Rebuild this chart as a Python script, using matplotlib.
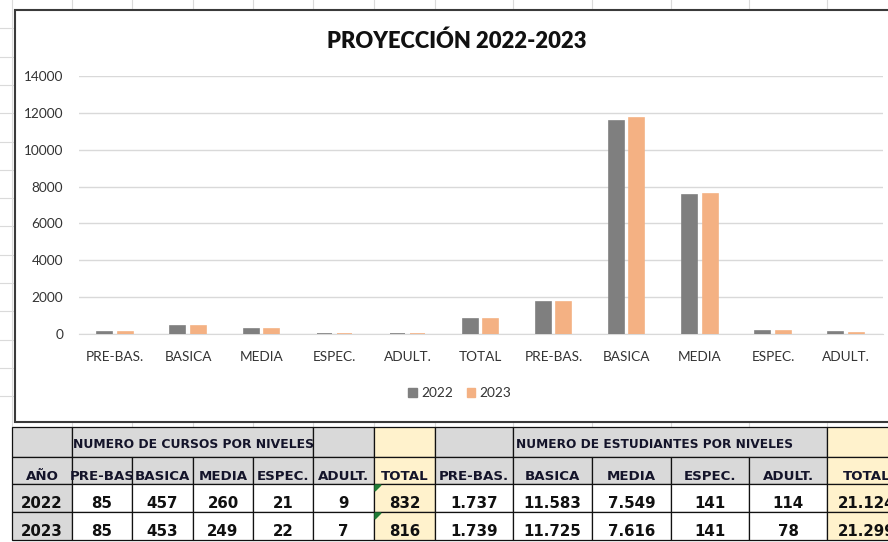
import matplotlib
matplotlib.use('Agg')
import matplotlib.pyplot as plt
from matplotlib.patches import Rectangle, Polygon, Patch
import numpy as np

# ---- datos ----
niveles = ['PRE-BAS.', 'BASICA', 'MEDIA', 'ESPEC.', 'ADULT.']
cat_grafico = niveles + ['TOTAL'] + niveles
anios = ['2022', '2023']
cursos_2022 = [85, 457, 260, 21, 9, 832]
cursos_2023 = [85, 453, 249, 22, 7, 816]
estud_2022 = [1737, 11583, 7549, 141, 114, 21124]
estud_2023 = [1739, 11725, 7616, 141, 78, 21299]
hdr_cursos = ['PRE-BAS', 'BASICA', 'MEDIA', 'ESPEC.', 'ADULT.', 'TOTAL']
hdr_estud = ['PRE-BAS.', 'BASICA', 'MEDIA', 'ESPEC.', 'ADULT.', 'TOTAL']
y_ticks = [0, 2000, 4000, 6000, 8000, 10000, 12000, 14000]

serie_2022 = cursos_2022 + estud_2022[:5]
serie_2023 = cursos_2023 + estud_2023[:5]

GRIS = '#7F7F7F'
NARANJA = '#F4B183'
CELDA_GRIS = '#D9D9D9'
CELDA_AMAR = '#FFF2CC'
W, H = 888, 542

fig = plt.figure(figsize=(W / 100, H / 100), dpi=100)

# fondo tipo hoja excel, en pixeles
bg = fig.add_axes([0, 0, 1, 1])
bg.set_xlim(0, W)
bg.set_ylim(H, 0)
bg.axis('off')

col_x = [12, 72, 132, 193, 253, 313, 374, 435, 513, 592, 671, 749, 827, 907]
for x in col_x:
    bg.plot([x, x], [0, 427], color='#DADADA', lw=0.8, zorder=0)
for y in np.arange(28.3, 420, 28.3):
    bg.plot([0, W], [y, y], color='#DADADA', lw=0.8, zorder=0)

# caja del grafico
bg.add_patch(Rectangle((15, 10), W, 412, facecolor='white', edgecolor='#3A3A3A', lw=1.5, zorder=1))

# ---- tabla ----
fila_y = [427, 457, 484, 512, 540]
fnt = 'DejaVu Sans'


def celda(x0, x1, y0, y1, color):
    bg.add_patch(Rectangle((x0, y0), x1 - x0, y1 - y0, facecolor=color, edgecolor='#111111', lw=0.9, zorder=2))


def texto(x, y, s, size=9.5, ha='center', color='#101010'):
    bg.text(x, y, s, ha=ha, va='baseline', fontsize=size, fontweight='bold', family=fnt,
            color=color, zorder=4)


# fila 1
celda(col_x[0], col_x[1], fila_y[0], fila_y[1], CELDA_GRIS)
celda(col_x[1], col_x[5], fila_y[0], fila_y[1], CELDA_GRIS)
celda(col_x[5], col_x[6], fila_y[0], fila_y[1], CELDA_GRIS)
celda(col_x[6], col_x[7], fila_y[0], fila_y[1], CELDA_AMAR)
celda(col_x[7], col_x[8], fila_y[0], fila_y[1], CELDA_GRIS)
celda(col_x[8], col_x[12], fila_y[0], fila_y[1], CELDA_GRIS)
celda(col_x[12], col_x[13], fila_y[0], fila_y[1], CELDA_AMAR)
texto(col_x[1] + 1, fila_y[1] - 9, 'NUMERO DE CURSOS POR NIVELES', size=8.9, ha='left', color='#14142a')
texto(col_x[8] + 3, fila_y[1] - 9, 'NUMERO DE ESTUDIANTES POR NIVELES', size=8.7, ha='left', color='#14142a')

# fila 2: encabezados
celda(col_x[0], col_x[1], fila_y[1], fila_y[2], CELDA_GRIS)
texto((col_x[0] + col_x[1]) / 2, fila_y[2] - 4, 'AÑO', size=9.6, color='#14142a')
hdrs = hdr_cursos + hdr_estud
for i, h in enumerate(hdrs):
    x0, x1 = col_x[i + 1], col_x[i + 2]
    celda(x0, x1, fila_y[1], fila_y[2], CELDA_AMAR if h == 'TOTAL' else CELDA_GRIS)
    texto((x0 + x1) / 2, fila_y[2] - 4, h, size=9.6, color='#14142a')


def fmt(v):
    return f'{v:,}'.replace(',', '.')


# filas de datos
for r, (anio, cur, est) in enumerate(zip(anios, [cursos_2022, cursos_2023], [estud_2022, estud_2023])):
    y0, y1 = fila_y[r + 2], fila_y[r + 3]
    celda(col_x[0], col_x[1], y0, y1, CELDA_GRIS)
    texto((col_x[0] + col_x[1]) / 2, y1 - 3.5, anio, size=10.8)
    vals = [str(v) for v in cur] + [fmt(v) for v in est]
    for i, s in enumerate(vals):
        x0, x1 = col_x[i + 1], col_x[i + 2]
        tot = i in (5, 11)
        celda(x0, x1, y0, y1, CELDA_AMAR if tot else 'white')
        texto((x0 + x1) / 2, y1 - 3.5, s, size=10.8)
    # indicador verde de excel
    bg.add_patch(Polygon([[col_x[6] + 1, y0 + 1], [col_x[6] + 7, y0 + 1], [col_x[6] + 1, y0 + 7]],
                         closed=True, color='#1E7B34', zorder=3))

# ---- grafico de barras ----
px_l, px_r, px_t, px_b = 78.5, 882.6, 76, 334
ax = fig.add_axes([px_l / W, 1 - px_b / H, (px_r - px_l) / W, (px_b - px_t) / H])
ax.set_facecolor('none')
x = np.arange(len(cat_grafico))
bw = 0.205
ax.bar(x - 0.14, serie_2022, bw, color=GRIS, edgecolor=GRIS, lw=1.2, label='2022', zorder=3)
ax.bar(x + 0.14, serie_2023, bw, color=NARANJA, edgecolor=NARANJA, lw=1.2, label='2023', zorder=3)
ax.set_xlim(-0.5, len(cat_grafico) - 0.5)
ax.set_ylim(0, 14000)
ax.set_yticks(y_ticks)
ax.set_yticklabels([str(t) for t in y_ticks])
ax.set_xticks(x)
ax.set_xticklabels(cat_grafico)
ax.grid(axis='y', color='#D9D9D9', lw=1, zorder=0)
for s in ['top', 'right', 'left']:
    ax.spines[s].set_visible(False)
ax.spines['bottom'].set_color('#D9D9D9')
ax.tick_params(length=0, labelsize=9.8, labelcolor='#333333')
ax.tick_params(axis='y', pad=11)
ax.tick_params(axis='x', pad=12)
for lab in ax.get_xticklabels() + ax.get_yticklabels():
    lab.set_family('Lato')

fig.text(457 / W, 1 - 48 / H, 'PROYECCIÓN 2022-2023', ha='center', va='baseline',
         fontsize=15.8, fontweight='heavy', family='Lato', color='#111111')

handles = [Patch(color=GRIS, label='2022'), Patch(color=NARANJA, label='2023')]
fig.legend(handles=handles, loc='center', bbox_to_anchor=(460 / W, 1 - 393 / H), ncol=2, frameon=False,
           handlelength=0.6, handleheight=0.6, handletextpad=0.35, columnspacing=1.0,
           prop={'family': 'Lato', 'size': 9.8}, labelcolor='#333333')

fig.savefig('out.png', dpi=100)
